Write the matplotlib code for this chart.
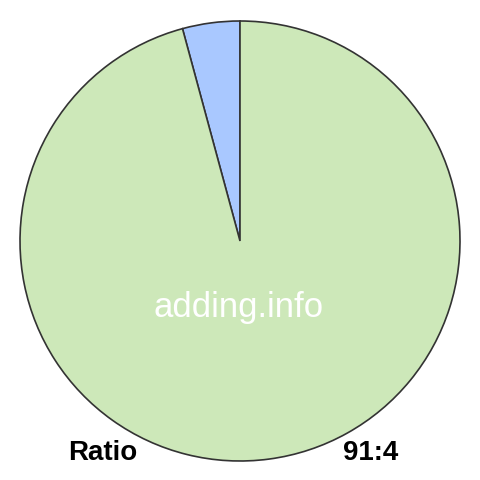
import matplotlib
matplotlib.use("Agg")
import matplotlib.pyplot as plt

labels = ["a", "b"]
values = [4, 91]
colors = ["#a9c8ff", "#cde8b9"]
title_left = "Ratio"
title_right = "91:4"
watermark = "adding.info"

plt.rcParams['font.family'] = ['Liberation Sans', 'DejaVu Sans']
fig = plt.figure(figsize=(4.8, 4.8), dpi=100)
ax = fig.add_axes([0, 0, 1, 1])
ax.set_xlim(0, 480)
ax.set_ylim(0, 480)
ax.set_aspect('equal')
ax.axis('off')

ax.pie(values, colors=colors, startangle=90, counterclock=True,
       center=(240, 239), radius=220,
       wedgeprops=dict(edgecolor="#333333", linewidth=1.2))
ax.set_xlim(0, 480)
ax.set_ylim(0, 480)

ax.text(239, 163, watermark, color="white", fontsize=25, ha="center", va="baseline")
ax.text(68, 20, title_left, fontsize=20, fontweight="bold", ha="left", va="baseline")
ax.text(398, 20, title_right, fontsize=20, fontweight="bold", ha="right", va="baseline")

fig.savefig("out.png", dpi=100)
